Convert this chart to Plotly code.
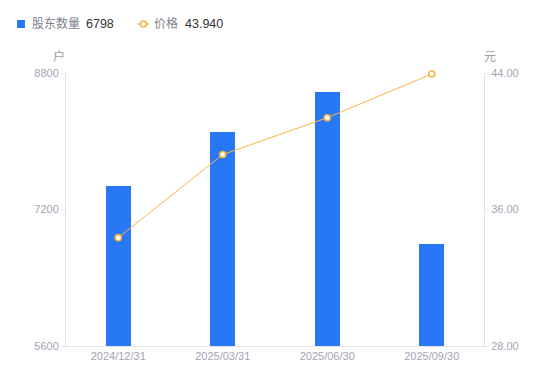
import plotly.graph_objects as go

categories = ["2024/12/31", "2025/03/31", "2025/06/30", "2025/09/30"]
holders = [7481, 8111, 8572, 6798]
price = [34.35, 39.22, 41.38, 43.94]
left_ticks = [5600, 7200, 8800]
right_ticks = [28.00, 36.00, 44.00]

BLUE = "#2777F6"
ORANGE = "#F9B43F"
AXIS = "#E3E3E8"
TICKTXT = "#A3A3B3"
FONT = "Liberation Sans, Noto Sans CJK SC, sans-serif"

fig = go.Figure()
fig.add_trace(go.Bar(x=categories, y=holders, width=0.24, marker=dict(color=BLUE, line=dict(width=0)),
                     name="股东数量", yaxis="y"))
fig.add_trace(go.Scatter(x=categories, y=price, mode="lines+markers", yaxis="y2", name="价格",
                         cliponaxis=False,
                         line=dict(color=ORANGE, width=1),
                         marker=dict(symbol="circle", size=6, color="white", line=dict(color=ORANGE, width=1.6))))

fig.update_layout(
    width=550, height=381,
    margin=dict(l=66, r=66, t=73, b=35),
    paper_bgcolor="white", plot_bgcolor="white",
    showlegend=False,
    bargap=0,
    font=dict(family=FONT, size=11, color=TICKTXT),
    xaxis=dict(type="category", showline=True, linecolor=AXIS, linewidth=1, ticks="",
               showgrid=False, tickfont=dict(size=11, color=TICKTXT), zeroline=False),
    yaxis=dict(range=[5600, 8800], tickvals=left_ticks, ticktext=[str(v) for v in left_ticks],
               showline=True, linecolor=AXIS, linewidth=1, ticks="outside", ticklen=4, tickcolor=AXIS,
               showgrid=False, zeroline=False, tickfont=dict(size=11, color=TICKTXT)),
    yaxis2=dict(range=[28, 44], tickvals=right_ticks, ticktext=[f"{v:.2f}" for v in right_ticks],
                overlaying="y", side="right", showline=True, linecolor=AXIS, linewidth=1,
                ticks="outside", ticklen=4, tickcolor=AXIS, showgrid=False, zeroline=False,
                tickfont=dict(size=11, color=TICKTXT)),
)

# axis unit labels
fig.add_annotation(text="户", xref="paper", yref="paper", x=-7/418, y=1 + 16.5/273, xanchor="center",
                   yanchor="middle", showarrow=False, font=dict(size=12, color="#9A9AAA"))
fig.add_annotation(text="元", xref="paper", yref="paper", x=1 + 6/418, y=1 + 16.5/273, xanchor="center",
                   yanchor="middle", showarrow=False, font=dict(size=12, color="#9A9AAA"))

# custom legend
LY = 1 + (73 - 24) / 273
fig.add_shape(type="rect", xref="paper", yref="paper", x0=-49/418, x1=-41/418,
              y0=1 + (73 - 28) / 273, y1=1 + (73 - 20) / 273, fillcolor=BLUE, line=dict(width=0))
fig.add_annotation(text="股东数量", xref="paper", yref="paper", x=-36/418, y=LY,
                   xanchor="left", yanchor="middle", showarrow=False, font=dict(size=12, color="#80808F"))
fig.add_annotation(text=str(holders[-1]), xref="paper", yref="paper", x=18/418, y=LY,
                   xanchor="left", yanchor="middle", showarrow=False, font=dict(size=12.5, color="#333333"))
fig.add_shape(type="line", xref="paper", yref="paper", x0=72/418, x1=83/418,
              y0=LY, y1=LY, line=dict(color=ORANGE, width=1.5))
fig.add_shape(type="circle", xref="paper", yref="paper", x0=74.5/418, x1=80.5/418,
              y0=1 + (73 - 27) / 273, y1=1 + (73 - 21) / 273, fillcolor="white", line=dict(color=ORANGE, width=1.6))
fig.add_annotation(text="价格", xref="paper", yref="paper", x=86/418, y=LY,
                   xanchor="left", yanchor="middle", showarrow=False, font=dict(size=12, color="#80808F"))
fig.add_annotation(text=f"{price[-1]:.3f}", xref="paper", yref="paper", x=117/418, y=LY,
                   xanchor="left", yanchor="middle", showarrow=False, font=dict(size=12.5, color="#333333"))

fig.write_html("out.html", config={"displayModeBar": False},
               post_script="document.body.style.margin='0px';")
